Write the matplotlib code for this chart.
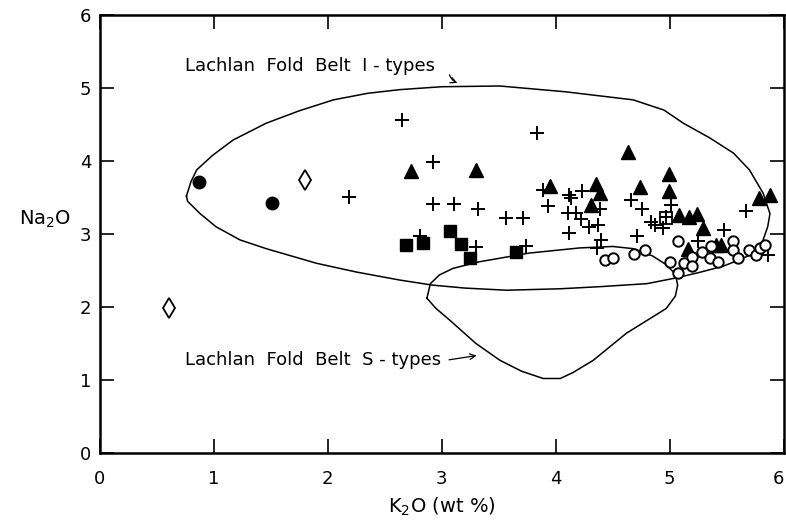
import numpy as np
import matplotlib
matplotlib.use("Agg")
import matplotlib.pyplot as plt

# K2O, Na2O values, grouped by symbol
plus_k2o = [2.19, 2.65, 2.92, 3.84, 2.92, 3.11, 3.32, 3.56, 3.71, 3.89, 3.93, 4.12, 4.13,
            4.23, 4.11, 4.18, 4.22, 4.29, 4.39, 4.37, 4.12, 4.40, 4.36, 2.81, 3.30, 3.74,
            4.66, 4.76, 5.01, 4.84, 4.87, 4.94, 4.97, 4.71, 5.25, 5.48, 5.67, 5.86]
plus_na2o = [3.51, 4.56, 3.99, 4.38, 3.41, 3.41, 3.34, 3.22, 3.22, 3.61, 3.38, 3.53, 3.49,
             3.59, 3.29, 3.29, 3.21, 3.10, 3.35, 3.12, 3.01, 2.92, 2.81, 2.97, 2.82, 2.84,
             3.47, 3.35, 3.40, 3.17, 3.12, 3.08, 3.24, 2.97, 2.90, 3.06, 3.32, 2.71]

tri_k2o = [2.73, 3.30, 3.95, 4.35, 4.39, 4.31, 4.63, 4.74, 4.99, 4.99, 5.08, 5.17, 5.24,
           5.29, 5.16, 5.41, 5.45, 5.78, 5.88]
tri_na2o = [3.87, 3.88, 3.66, 3.68, 3.56, 3.40, 4.13, 3.64, 3.83, 3.59, 3.26, 3.24, 3.28,
            3.08, 2.80, 2.85, 2.85, 3.49, 3.53]

sq_k2o = [2.69, 2.84, 3.07, 3.17, 3.25, 3.65]
sq_na2o = [2.85, 2.88, 3.04, 2.86, 2.67, 2.75]

dot_k2o = [0.87, 1.51]
dot_na2o = [3.72, 3.42]

diam_k2o = [0.61, 1.80]
diam_na2o = [1.99, 3.74]

opensq_k2o = [4.97]
opensq_na2o = [3.22]

circ_k2o = [4.43, 4.50, 4.69, 4.78, 5.00, 5.07, 5.07, 5.13, 5.20, 5.20, 5.28, 5.35, 5.36,
            5.42, 5.56, 5.56, 5.60, 5.70, 5.76, 5.79, 5.84]
circ_na2o = [2.64, 2.67, 2.72, 2.78, 2.62, 2.46, 2.91, 2.60, 2.69, 2.56, 2.76, 2.67, 2.84,
             2.62, 2.91, 2.78, 2.67, 2.78, 2.71, 2.81, 2.85]

# field outlines
itype_k2o = [0.76, 0.80, 0.85, 0.99, 1.17, 1.46, 1.75, 2.05, 2.35, 2.63, 3.00, 3.51, 4.09,
             4.68, 4.95, 5.12, 5.35, 5.56, 5.70, 5.82, 5.88, 5.86, 5.82, 5.76, 5.60, 5.47,
             5.25, 5.06, 4.80, 4.40, 4.04, 3.57, 3.20, 2.92, 2.63, 2.25, 1.90, 1.46, 1.23,
             1.02, 0.88, 0.77, 0.76]
itype_na2o = [3.52, 3.72, 3.88, 4.08, 4.29, 4.52, 4.69, 4.84, 4.93, 4.98, 5.02, 5.03, 4.95,
              4.84, 4.70, 4.52, 4.32, 4.11, 3.88, 3.56, 3.28, 3.10, 2.92, 2.75, 2.64, 2.56,
              2.47, 2.40, 2.32, 2.28, 2.25, 2.23, 2.26, 2.30, 2.37, 2.48, 2.60, 2.80, 2.92,
              3.10, 3.28, 3.45, 3.52]

stype_k2o = [2.87, 2.90, 2.98, 3.10, 3.33, 3.77, 4.21, 4.50, 4.68, 4.85, 4.97, 5.05, 5.07,
             5.05, 4.97, 4.62, 4.33, 4.15, 4.04, 3.89, 3.70, 3.51, 3.30, 3.07, 2.95, 2.87]
stype_na2o = [2.12, 2.32, 2.44, 2.53, 2.62, 2.74, 2.81, 2.83, 2.80, 2.70, 2.58, 2.45, 2.30,
              2.15, 1.98, 1.64, 1.27, 1.10, 1.02, 1.02, 1.12, 1.27, 1.50, 1.82, 1.98, 2.12]

plt.rcParams['font.family'] = ['DejaVu Sans']
fig = plt.figure(figsize=(7.86, 5.26), dpi=100)
ax = fig.add_axes([0.127, 0.139, 0.870, 0.832])

ax.plot(itype_k2o, itype_na2o, color='black', lw=1.1)
ax.plot(stype_k2o, stype_na2o, color='black', lw=1.1)

ax.plot(plus_k2o, plus_na2o, '+', color='black', ms=10.5, mew=1.4, ls='none')
ax.plot(tri_k2o, tri_na2o, '^', color='black', ms=9.5, ls='none')
ax.plot(sq_k2o, sq_na2o, 's', color='black', ms=8.5, ls='none')
ax.plot(dot_k2o, dot_na2o, 'o', color='black', ms=9, ls='none')
ax.plot(diam_k2o, diam_na2o, 'd', mfc='white', mec='black', ms=10, mew=1.3, ls='none')
ax.plot(opensq_k2o, opensq_na2o, 's', mfc='none', mec='black', ms=8.5, mew=1.3, ls='none')
ax.plot(circ_k2o, circ_na2o, 'o', mfc='white', mec='black', ms=7.5, mew=1.4, ls='none')

ax.text(0.75, 5.31, 'Lachlan  Fold  Belt  I - types', fontsize=13, va='center')
ax.annotate('', xy=(3.16, 5.06), xytext=(3.06, 5.22),
            arrowprops=dict(arrowstyle='->', color='black', lw=0.9,
                            connectionstyle='arc3,rad=0.3'))
ax.text(0.75, 1.27, 'Lachlan  Fold  Belt  S - types', fontsize=13, va='center')
ax.annotate('', xy=(3.33, 1.34), xytext=(3.04, 1.27),
            arrowprops=dict(arrowstyle='->', color='black', lw=0.9))

ax.set_xlim(0, 6)
ax.set_ylim(0, 6)
ax.set_xticks(range(7))
ax.set_yticks(range(7))
ax.tick_params(direction='in', length=10, width=1.2, top=True, right=True,
               labelsize=13)
ax.tick_params(axis='x', pad=12)
ax.tick_params(axis='y', pad=6)
ax.get_xticklabels()[-1].set_horizontalalignment('right')
for s in ax.spines.values():
    s.set_linewidth(1.8)

ax.set_xlabel('K$_2$O (wt %)', fontsize=14, labelpad=6)
ax.set_ylabel('Na$_2$O', fontsize=14, rotation=0, labelpad=22)
ax.yaxis.set_label_coords(-0.08, 0.51)

fig.savefig('out.png', dpi=100)
